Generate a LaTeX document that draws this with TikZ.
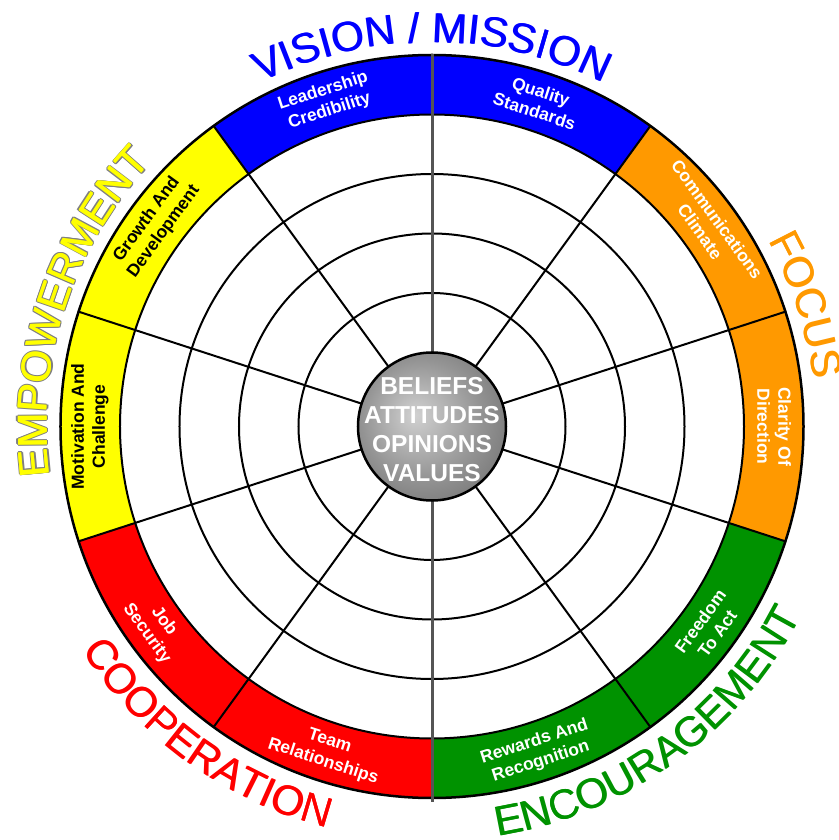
\documentclass[tikz,border=0pt]{standalone}
\usepackage{fontspec}
\setmainfont{Liberation Sans}
\usetikzlibrary{decorations.text}
\definecolor{cblue}{RGB}{0,0,255}
\definecolor{corange}{RGB}{255,153,0}
\definecolor{cgreen}{RGB}{0,146,0}
\definecolor{cred}{RGB}{255,0,0}
\definecolor{cyellow}{RGB}{255,255,0}
\definecolor{vline}{RGB}{85,85,85}
\pgfdeclareradialshading{ballshade}{\pgfpoint{-6bp}{4bp}}{color(0bp)=(black!18); color(20bp)=(black!42); color(38bp)=(black!60); color(50bp)=(black!70)}
\newcommand\catfont{\fontsize{42}{42}\selectfont}
\newcommand\segfont{\fontsize{17.5}{21}\selectfont\bfseries}
\newcommand\ballfont{\fontsize{24.5}{29}\selectfont\bfseries}
\tikzset{
  seglabel/.style={font=\segfont, align=center, inner sep=0pt, text=white},
  gridline/.style={line width=2pt, draw=black},
  cattop/.style={decorate, decoration={text along path, text align=center, text color=#1}},
}
\begin{document}
\begin{tikzpicture}[x=1pt,y=1pt]
\useasboundingbox (-432,-413.5) rectangle (406,426.5);
\fill[white] (-432,-413.5) rectangle (406,426.5);
\def\Rin{312}
\def\Rout{371.5}
% coloured ring
\foreach \a/\c in {108/cblue,72/cblue,36/corange,0/corange,-36/cgreen,-72/cgreen,-108/cred,-144/cred,180/cyellow,144/cyellow}{
  \fill[\c] (\a-18:\Rin) arc[start angle=\a-18, end angle=\a+18, radius=\Rin]
    -- (\a+18:\Rout) arc[start angle=\a+18, end angle=\a-18, radius=\Rout] -- cycle;
}
% circles
\foreach \r in {133.5,193,252.5,312}
  \draw[gridline] (0,0) circle[radius=\r];
\draw[line width=2.5pt] (0,0) circle[radius=\Rout];
% radial lines
\foreach \a in {18,54,126,162,198,234,306,342}
  \draw[gridline] (0,0) -- (\a:\Rout);
\coordinate (vtop) at (0,372.5);
\coordinate (vbot) at (0,-375);
\draw[line width=3pt, vline] (vtop) -- (vbot);
% segment labels
\node[seglabel, rotate=18]  (l1) at (108:342) {Leadership\\Credibility};
\node[seglabel, rotate=-18] (l2) at (72:342)  {Quality\\Standards};
\node[seglabel, rotate=-54] (l3) at (36:342)  {Communications\\Climate};
\node[seglabel, rotate=-90] (l4) at (0:342)   {Clarity Of\\Direction};
\node[seglabel, rotate=54]  (l5) at (-36:342) {Freedom\\To Act};
\node[seglabel, rotate=18]  (l6) at (-72:342) {Rewards And\\Recognition};
\node[seglabel, rotate=-18] (l7) at (-108:342) {Team\\Relationships};
\node[seglabel, rotate=-54] (l8) at (-144:342) {Job\\Security};
\node[seglabel, text=black, rotate=90] (l9) at (180:342) {Motivation And\\Challenge};
\node[seglabel, text=black, rotate=54] (l10) at (144:342) {Growth And\\Development};
% centre ball
\shade[shading=ballshade] (0,0) circle[radius=74];
\draw[line width=2.5pt] (0,0) circle[radius=74];
\node[font=\ballfont, text=white, align=center, inner sep=0pt] (core) at (0,-3.25) {BELIEFS\\ATTITUDES\\OPINIONS\\VALUES};
% category labels (drawn twice with a small offset to thicken strokes)
\foreach \dx in {-0.4,0.4}{
\path[shift={(\dx,0)}, cattop=cblue, decoration={text={|\catfont|VISION / MISSION}}]
  (150:384) arc[start angle=150, end angle=30, radius=384];
\path[shift={(0,\dx)}, cattop=corange, decoration={text={|\catfont|FOCUS}}]
  (78:384) arc[start angle=78, end angle=-42, radius=384];
\path[shift={(\dx,0)}, cattop=cgreen, decoration={text={|\catfont|ENCOURAGEMENT}}]
  (-114:415) arc[start angle=-114, end angle=6, radius=415];
\path[shift={(\dx,0)}, cattop=cred, decoration={text={|\catfont|COOPERATION}}]
  (-186:415) arc[start angle=-186, end angle=-66, radius=415];
}
\foreach \dx/\dy in {1.2/0,-1.2/0,0/1.2,0/-1.2,0.85/0.85,-0.85/0.85,0.85/-0.85,-0.85/-0.85}{
  \path[shift={(\dx,\dy)}, cattop=black!50, decoration={text={|\catfont|EMPOWERMENT}}]
    (222:385) arc[start angle=222, end angle=102, radius=385];
}
\foreach \dy in {-0.4,0.4}{
\path[shift={(0,\dy)}, cattop=cyellow, decoration={text={|\catfont|EMPOWERMENT}}]
  (222:385) arc[start angle=222, end angle=102, radius=385];
}
\end{tikzpicture}
\end{document}
